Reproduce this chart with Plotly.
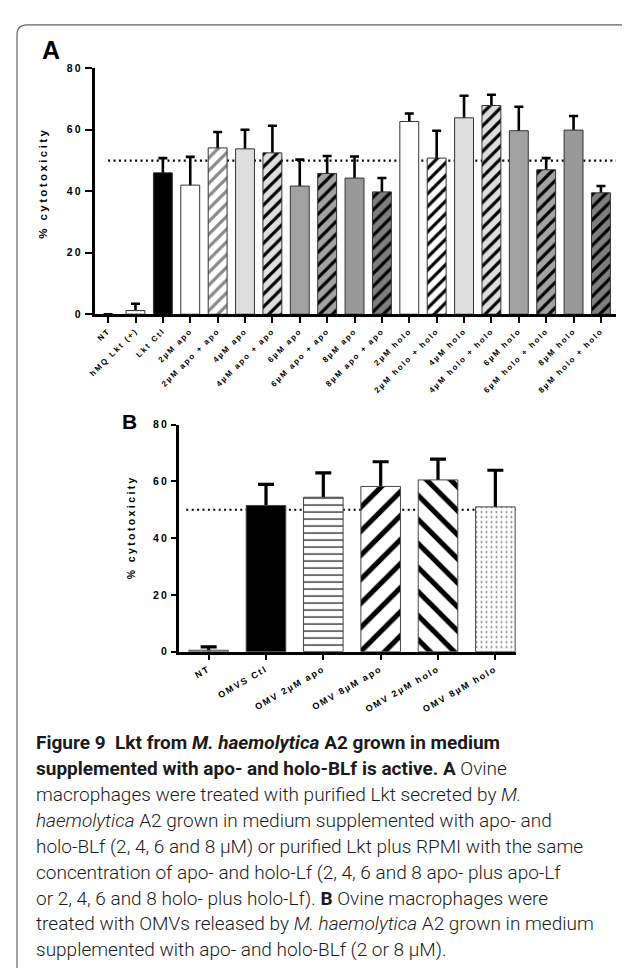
import plotly.graph_objects as go

W, H = 630, 968

# ---------------- data ----------------
cats_a = ["NT", "hMQ Lkt (+)", "Lkt Ctl", "2µM apo", "2µM apo + apo", "4µM apo",
          "4µM apo + apo", "6µM apo", "6µM apo + apo", "8µM apo", "8µM apo + apo",
          "2µM holo", "2µM holo + holo", "4µM holo", "4µM holo + holo", "6µM holo",
          "6µM holo + holo", "8µM holo", "8µM holo + holo"]
vals_a = [0, 1.2, 46.0, 42.0, 54.1, 53.8, 52.5, 41.7, 45.8, 44.3, 39.8,
          62.7, 50.8, 63.9, 67.9, 59.7, 47.0, 59.9, 39.5]
err_a = [None, 2.2, 4.8, 9.2, 5.2, 6.2, 8.8, 8.6, 5.7, 7.0, 4.5,
         2.6, 8.9, 7.2, 3.5, 7.8, 3.8, 4.6, 2.2]

cats_b = ["NT", "OMVS Ctl", "OMV 2µM apo", "OMV 8µM apo", "OMV 2µM holo", "OMV 8µM holo"]
vals_b = [0.5, 51.5, 54.4, 58.2, 60.5, 51.0]
err_b = [1.2, 7.4, 8.6, 8.7, 7.3, 12.9]

y_ticks = [0, 20, 40, 60, 80]
ref_level = 50

# ---------------- styles ----------------
# background (fill) colour of each bar
fill_a = ["#ffffff", "#ffffff", "#000000", "#ffffff", "#ffffff", "#dedede", "#dedede",
          "#a2a2a2", "#a2a2a2", "#999999", "#7e7e7e",
          "#ffffff", "#ffffff", "#dedede", "#dedede", "#a2a2a2", "#a2a2a2", "#999999", "#7e7e7e"]
# hatch colour (same as fill for plain bars)
fg_a = ["#ffffff", "#888888", "#000000", "#ffffff", "#8a8a8a", "#dedede", "#000000",
        "#a2a2a2", "#000000", "#999999", "#000000",
        "#ffffff", "#000000", "#dedede", "#000000", "#a2a2a2", "#000000", "#999999", "#000000"]
shape_a = ["/", ".", "/", "/", "/", "/", "/", "/", "/", "/", "/",
           "/", "/", "/", "/", "/", "/", "/", "/"]
size_a = [9, 4, 9, 9, 9, 9, 9, 9, 9, 9, 9, 9, 9, 9, 9, 9, 9, 9, 9]
sol_a = [0.36, 0.14, 0.36, 0.36, 0.36, 0.36, 0.36, 0.36, 0.36, 0.36, 0.36,
         0.36, 0.36, 0.36, 0.36, 0.36, 0.36, 0.36, 0.36]
lw_a = [0] + [1] * 18

fill_b = ["#ffffff", "#000000", "#ffffff", "#ffffff", "#ffffff", "#ffffff"]
fg_b = ["#ffffff", "#000000", "#000000", "#000000", "#000000", "#777777"]
shape_b = ["/", "/", "-", "/", "\\", "."]
size_b = [8, 8, 7, 17, 17, 5]
sol_b = [0.3, 0.3, 0.16, 0.3, 0.3, 0.12]

FONT = "Liberation Sans, Arial, sans-serif"

# pixel geometry -> paper
def px(x):
    return x / W

def py(y):
    return 1 - y / H

fig = go.Figure()

# error bars (base subplot, drawn underneath the bars of the overlay subplot)
fig.add_trace(go.Scatter(
    x=cats_a, y=vals_a, mode="markers", xaxis="x", yaxis="y",
    marker=dict(size=1, opacity=0), hoverinfo="skip", showlegend=False,
    error_y=dict(type="data", array=err_a, symmetric=True, color="black",
                 thickness=2.6, width=4.5),
))
fig.add_trace(go.Bar(
    x=cats_a, y=vals_a, xaxis="x3", yaxis="y3", showlegend=False,
    marker=dict(color="#ffffff", line=dict(color="#333333", width=lw_a),
                pattern=dict(shape=shape_a, bgcolor=fill_a, fgcolor=fg_a, fgopacity=1,
                             size=size_a, solidity=sol_a, fillmode="replace")),
))

fig.add_trace(go.Scatter(
    x=cats_b, y=vals_b, mode="markers", xaxis="x2", yaxis="y2",
    marker=dict(size=1, opacity=0), hoverinfo="skip", showlegend=False,
    error_y=dict(type="data", array=err_b, symmetric=True, color="black",
                 thickness=3.2, width=8),
))
fig.add_trace(go.Bar(
    x=cats_b, y=vals_b, xaxis="x4", yaxis="y4", showlegend=False,
    marker=dict(color="#ffffff", line=dict(color="#444444", width=1),
                pattern=dict(shape=shape_b, bgcolor=fill_b, fgcolor=fg_b, fgopacity=1,
                             size=size_b, solidity=sol_b, fillmode="replace")),
))

xr_a = [-0.49, 18.55]
xr_b = [-0.517, 5.36]
dom_xa = [px(86.7), px(608)]
dom_ya = [py(304), py(55)]
dom_xb = [px(171), px(508)]
dom_yb = [py(645.7), py(415.7)]

axis_common = dict(showline=True, linecolor="black", linewidth=2.6, ticks="outside",
                   tickcolor="black", tickwidth=2, showgrid=False, zeroline=False,
                   fixedrange=True)

fig.update_layout(
    width=W, height=H, margin=dict(l=0, r=0, t=0, b=0),
    paper_bgcolor="white", plot_bgcolor="rgba(0,0,0,0)",
    bargap=0.31, showlegend=False,
    font=dict(family=FONT, color="black"),
    xaxis=dict(domain=dom_xa, anchor="y", type="category", range=xr_a,
               categoryorder="array", categoryarray=cats_a, tickangle=-45, ticklen=6,
               tickfont=dict(size=8, weight="bold", family=FONT), **axis_common),
    yaxis=dict(domain=dom_ya, anchor="x", range=[0, 80], tickvals=y_ticks, ticklen=7,
               tickfont=dict(size=10.5, weight="bold", family=FONT), **axis_common),
    xaxis3=dict(overlaying="x", anchor="y3", type="category", range=xr_a,
                categoryorder="array", categoryarray=cats_a, visible=False, fixedrange=True),
    yaxis3=dict(overlaying="y", anchor="x3", range=[0, 80], visible=False, fixedrange=True),
    xaxis2=dict(domain=dom_xb, anchor="y2", type="category", range=xr_b,
                categoryorder="array", categoryarray=cats_b, tickangle=-30, ticklen=6,
                tickfont=dict(size=9, weight="bold", family=FONT), **axis_common),
    yaxis2=dict(domain=dom_yb, anchor="x2", range=[0, 80], tickvals=y_ticks, ticklen=5,
                tickfont=dict(size=10.5, weight="bold", family=FONT), **axis_common),
    xaxis4=dict(overlaying="x2", anchor="y4", type="category", range=xr_b,
                categoryorder="array", categoryarray=cats_b, visible=False, fixedrange=True),
    yaxis4=dict(overlaying="y2", anchor="x4", range=[0, 80], visible=False, fixedrange=True),
)

# dotted reference lines at 50 %
fig.add_shape(type="line", xref="x", yref="y", x0=0, x1=xr_a[1], y0=ref_level, y1=ref_level,
              layer="below", line=dict(color="black", width=2.2, dash="2px,3.4px"))
fig.add_shape(type="line", xref="x2", yref="y2", x0=-0.39, x1=xr_b[1], y0=ref_level, y1=ref_level,
              layer="below", line=dict(color="black", width=2.2, dash="2px,3.4px"))

# rounded frame
L, T, R, B, r = 9, 11, 628, 990, 10
path = (f"M {px(L)},{py(B)} L {px(L)},{py(T + r)} Q {px(L)},{py(T)} {px(L + r)},{py(T)} "
        f"L {px(R - r)},{py(T)} Q {px(R)},{py(T)} {px(R)},{py(T + r)} L {px(R)},{py(B)}")
fig.add_shape(type="path", xref="paper", yref="paper", path=path,
              line=dict(color="#666666", width=1.2))

# panel letters and y titles
fig.add_annotation(x=px(43), y=py(36), xref="paper", yref="paper", text="<b>A</b>",
                   showarrow=False, xanchor="center", yanchor="middle",
                   font=dict(size=25, family=FONT))
fig.add_annotation(x=px(121), y=py(413), xref="paper", yref="paper", text="<b>B</b>",
                   showarrow=False, xanchor="center", yanchor="middle",
                   font=dict(size=21, family=FONT))
fig.add_annotation(x=px(35), y=py(171), xref="paper", yref="paper", text="% cytotoxicity",
                   showarrow=False, textangle=-90, xanchor="center", yanchor="middle",
                   font=dict(size=11.5, family=FONT, weight="bold"))
fig.add_annotation(x=px(123), y=py(520), xref="paper", yref="paper", text="% cytotoxicity",
                   showarrow=False, textangle=-90, xanchor="center", yanchor="middle",
                   font=dict(size=10.5, family=FONT, weight="bold"))

# caption
caption = [
    "<b>Figure 9  Lkt from <i>M. haemolytica</i> A2 grown in medium</b>",
    "<b>supplemented with apo- and holo-BLf is active. A</b> Ovine",
    "macrophages were treated with purified Lkt secreted by <i>M.</i>",
    "<i>haemolytica</i> A2 grown in medium supplemented with apo- and",
    "holo-BLf (2, 4, 6 and 8 µM) or purified Lkt plus RPMI with the same",
    "concentration of apo- and holo-Lf (2, 4, 6 and 8 apo- plus apo-Lf",
    "or 2, 4, 6 and 8 holo- plus holo-Lf). <b>B</b> Ovine macrophages were",
    "treated with OMVs released by <i>M. haemolytica</i> A2 grown in medium",
    "supplemented with apo- and holo-BLf (2 or 8 µM).",
]
for i, line in enumerate(caption):
    fig.add_annotation(x=px(26), y=py(738 + 26.2 * i), xref="paper", yref="paper",
                       text=line, showarrow=False, xanchor="left", yanchor="middle",
                       font=dict(size=19, family="Roboto", weight=300, color="#1a1a1a"))

js = """
var gd = document.getElementById('{plot_id}');
function sp(sel, v){ gd.querySelectorAll(sel).forEach(function(t){ t.setAttribute('letter-spacing', v); }); }
sp('.xtick text', '1.8px'); sp('.x2tick text', '1.8px');
sp('.ytick text', '2.2px'); sp('.y2tick text', '2.2px');
gd.querySelectorAll('.annotation-text').forEach(function(t){
  if (t.textContent.indexOf('cytotoxicity') >= 0) { t.setAttribute('letter-spacing', '2.4px'); }
});
"""

fig.write_html("out.html", post_script=js)
